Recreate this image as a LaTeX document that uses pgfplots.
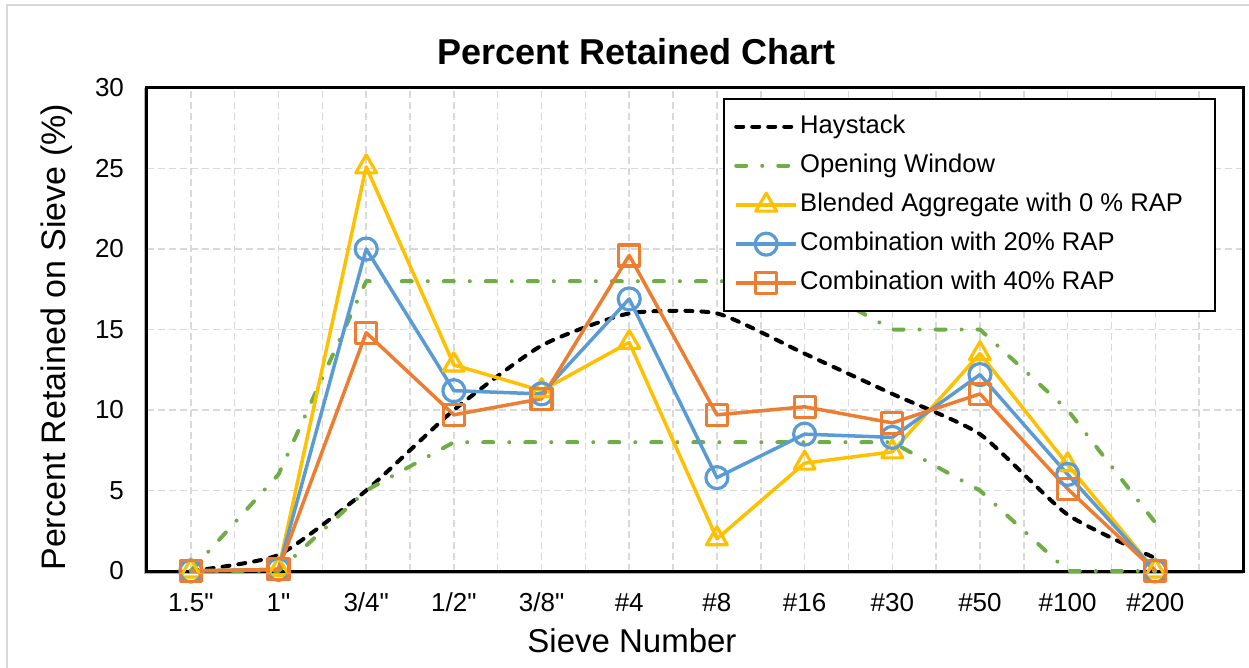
\documentclass[border=0pt]{standalone}
\usepackage{pgfplots}
\pgfplotsset{compat=1.18}
\usepackage{pgfplotstable}
\usepackage{fontspec}
\setmainfont{Liberation Sans}

\definecolor{owin}{HTML}{70AD47}
\definecolor{rapA}{HTML}{FFC000}
\definecolor{rapB}{HTML}{5B9BD5}
\definecolor{rapC}{HTML}{ED7D31}
\definecolor{gridgray}{HTML}{D9D9D9}

% sieve index, haystack, opening window (upper/lower), blends 0/20/40 % RAP
\pgfplotstableread{
x  hay  upper lower r0   r20  r40
0  0    0     0     0    0    0
1  1    6     0     0.1  0.1  0.1
2  5    18    5     25.1 20.0 14.8
3  10   18    8     12.8 11.2 9.7
4  14   18    8     11.2 11.0 10.7
5  16   18    8     14.2 16.9 19.6
6  16   18    8     2.0  5.8  9.7
7  13.5 18    8     6.7  8.5  10.2
8  11   15    8     7.4  8.3  9.2
9  8.5  15    5     13.5 12.2 11.0
10 3.5  10    0     6.6  6.0  5.1
11 0.8  3     0     0    0    0
}\sieve

\begin{document}
\begin{tikzpicture}
\path[use as bounding box] (-73.5bp,-48.5bp) rectangle (551bp,285.5bp);
\draw[gridgray, line width=1bp] (-70bp,-48.5bp) -- (-70bp,283bp) -- (551bp,283bp);
\begin{axis}[
    name=ax,
    scale only axis,
    width=548bp, height=241.5bp,
    xmin=-0.5, xmax=12, ymin=0, ymax=30,
    xtick={0,...,11},
    xticklabels={1.5\textquotedbl,1\textquotedbl,3/4\textquotedbl,1/2\textquotedbl,3/8\textquotedbl,\#4,\#8,\#16,\#30,\#50,\#100,\#200},
    minor xtick={-0.5,0.5,...,11.5},
    ytick={0,5,...,30},
    major tick length=0pt, minor tick length=0pt,
    grid=both,
    major grid style={gridgray, line width=0.75bp, dash pattern=on 3.5bp off 2bp},
    minor grid style={gridgray, line width=0.75bp, dash pattern=on 3.5bp off 2bp},
    axis line style={line width=1.5bp},
    clip=false,
    /pgf/number format/assume math mode=true,
    tick label style={font=\fontsize{13bp}{15bp}\selectfont},
    xticklabel style={text height=9.5bp, yshift=-7bp},
    yticklabel style={xshift=-8bp},
    title={Percent Retained Chart},
    title style={at={(0.447,1.0745)}, anchor=center, yshift=-6pt, font=\bfseries\fontsize{18bp}{21bp}\selectfont},
    xlabel={Sieve Number},
    xlabel style={at={(0.4425,-0.145)}, anchor=center, font=\fontsize{16.5bp}{20bp}\selectfont},
    ylabel={Percent Retained on Sieve (\%)},
    ylabel style={at={(-0.082,0.484)}, anchor=center, font=\fontsize{17bp}{20bp}\selectfont},
    legend cell align=left,
    legend style={at={(0.9754,0.979)}, anchor=north east, draw=black, line width=1bp,
        font=\fontsize{12.8bp}{15bp}\selectfont, inner xsep=5bp, inner ysep=8bp, row sep=8bp,
        nodes={inner xsep=1bp, inner ysep=0pt, text height=9bp, text depth=2.5bp}},
    legend image code/.code={\draw[mark repeat=2, mark phase=2, #1] plot coordinates {(0bp,0bp) (15bp,0bp) (30bp,0bp)};},
]
\addplot[black, line width=2bp, smooth, tension=0.35, line cap=round, dash pattern=on 3.5bp off 4.5bp] table[x=x, y=hay] {\sieve};
\addlegendentry{Haystack}
\addplot[owin, line width=2bp, line cap=round, line join=round, dash pattern=on 5bp off 8bp on 0.01bp off 8bp] table[x=x, y=upper] {\sieve};
\addlegendentry{Opening Window}
\addplot[owin, line width=2bp, line cap=round, line join=round, dash pattern=on 5bp off 8bp on 0.01bp off 8bp, forget plot] table[x=x, y=lower] {\sieve};
\addplot[rapA, line width=1.75bp, line join=round, mark=triangle, mark size=6bp, mark options={solid, line width=1.6bp, fill=none}] table[x=x, y=r0] {\sieve};
\addlegendentry{Blended Aggregate with 0 \% RAP\hspace*{10bp}\mbox{}}
\addplot[rapB, line width=1.75bp, line join=round, mark=o, mark size=5.5bp, mark options={solid, line width=1.6bp, fill=none}] table[x=x, y=r20] {\sieve};
\addlegendentry{Combination with 20\% RAP}
\addplot[rapC, line width=1.75bp, line join=round, mark=square, mark size=5.25bp, mark options={solid, line width=1.6bp, fill=none}] table[x=x, y=r40] {\sieve};
\addlegendentry{Combination with 40\% RAP}
\end{axis}
\draw[gray!60, line width=0.6bp] ([xshift=-1.1bp]ax.north west) -- ([xshift=-1.1bp,yshift=-1.1bp]ax.south west) -- ([yshift=-1.1bp]ax.south east);
\end{tikzpicture}
\end{document}
